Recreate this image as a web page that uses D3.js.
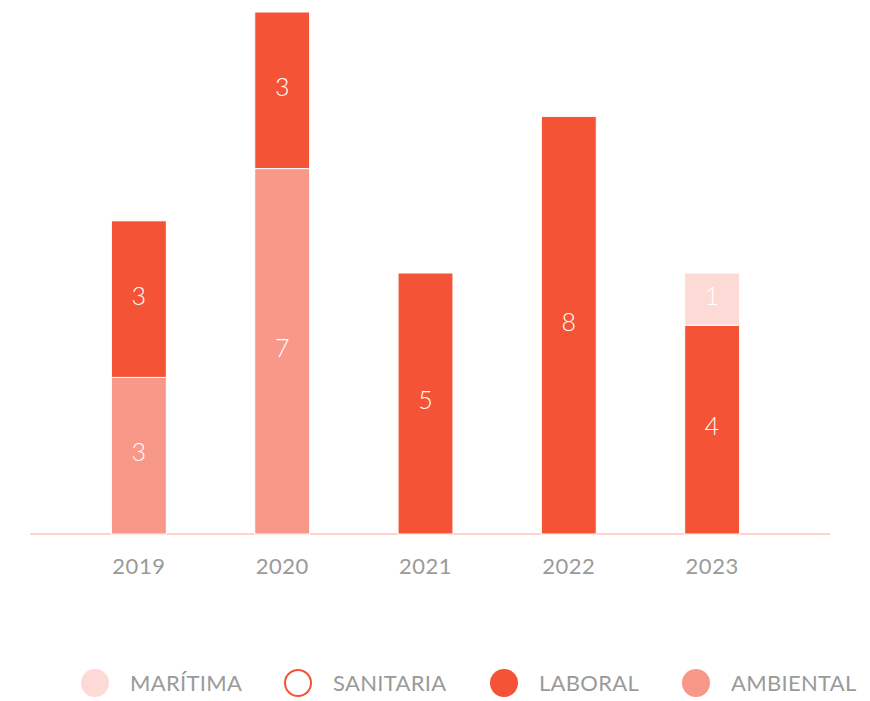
<!DOCTYPE html>
<html>
<head>
<meta charset="utf-8">
<script src="https://cdn.jsdelivr.net/npm/d3@7"></script>
<style>
  body { margin: 0; background: #fff; }
  #chart { width: 870px; height: 701px; }
  text { font-family: Lato, "Open Sans", sans-serif; }
</style>
</head>
<body>
<div id="chart"></div>
<script>
const years = ["2019", "2020", "2021", "2022", "2023"];
const ambiental = [3, 7, 0, 0, 0];
const laboral = [3, 3, 5, 8, 4];
const sanitaria = [0, 0, 0, 0, 0];
const maritima = [0, 0, 0, 0, 1];

const legendNames = ["MARÍTIMA", "SANITARIA", "LABORAL", "AMBIENTAL"];
const keys = ["ambiental", "laboral", "sanitaria", "maritima"];

const colors = {
  maritima: "#FDDAD5",
  sanitaria: "#ffffff",
  laboral: "#F55336",
  ambiental: "#F79888"
};

const width = 870;
const height = 701;
const baseline = 534;

const svg = d3.select("#chart")
  .append("svg")
  .attr("width", width)
  .attr("height", height);

const rows = years.map((y, i) => ({
  year: y,
  ambiental: ambiental[i],
  laboral: laboral[i],
  sanitaria: sanitaria[i],
  maritima: maritima[i]
}));

const stacked = d3.stack().keys(keys)(rows);

const xScale = d3.scaleBand()
  .domain(years)
  .range([67, 784])
  .paddingInner(0.617)
  .paddingOuter(0.31);

const yScale = d3.scaleLinear()
  .domain([0, 10])
  .range([baseline, 12]);

// axis line
svg.append("line")
  .attr("x1", 30).attr("x2", 830)
  .attr("y1", baseline).attr("y2", baseline)
  .attr("stroke", "#FDD3CC")
  .attr("stroke-width", 2);

const groups = svg.selectAll("g.layer")
  .data(stacked)
  .enter()
  .append("g")
  .attr("class", "layer")
  .attr("fill", d => colors[d.key]);

groups.selectAll("rect")
  .data(d => d.filter(s => s[1] - s[0] > 0))
  .enter()
  .append("rect")
  .attr("x", d => xScale(d.data.year))
  .attr("y", d => yScale(d[1]))
  .attr("width", xScale.bandwidth())
  .attr("height", d => yScale(d[0]) - yScale(d[1]))
  .attr("stroke", "#fff")
  .attr("stroke-width", 1);

groups.selectAll("text")
  .data(d => d.filter(s => s[1] - s[0] > 0))
  .enter()
  .append("text")
  .attr("x", d => xScale(d.data.year) + xScale.bandwidth() / 2)
  .attr("y", d => (yScale(d[0]) + yScale(d[1])) / 2 - 3)
  .attr("dy", "0.35em")
  .attr("text-anchor", "middle")
  .attr("fill", "#fff")
  .attr("font-size", 25)
  .attr("font-weight", 300)
  .text(d => d[1] - d[0]);

// x labels
const xAxis = d3.axisBottom(xScale).tickSize(0).tickPadding(24);
const gx = svg.append("g")
  .attr("transform", `translate(0,${baseline})`)
  .call(xAxis);
gx.select(".domain").remove();
gx.selectAll("text")
  .attr("fill", "#9A9A9A")
  .attr("font-size", 22)
  .attr("font-family", "Lato, 'Open Sans', sans-serif")
  .attr("letter-spacing", 0.5)
  .attr("dy", "0.71em");

// legend
const legendKeys = ["maritima", "sanitaria", "laboral", "ambiental"];
const legendX = [95, 298, 504, 696];

const legend = svg.selectAll("g.legend")
  .data(legendKeys)
  .enter()
  .append("g")
  .attr("class", "legend")
  .attr("transform", (d, i) => `translate(${legendX[i]},683)`);

legend.append("circle")
  .attr("r", d => d === "sanitaria" ? 13 : 14)
  .attr("fill", d => colors[d])
  .attr("stroke", d => d === "sanitaria" ? "#F55336" : "none")
  .attr("stroke-width", 2);

legend.append("text")
  .attr("x", 35)
  .attr("dy", "0.35em")
  .attr("fill", "#9A9A9A")
  .attr("font-size", 22)
  .attr("letter-spacing", 0.3)
  .text((d, i) => legendNames[i]);
</script>
</body>
</html>
